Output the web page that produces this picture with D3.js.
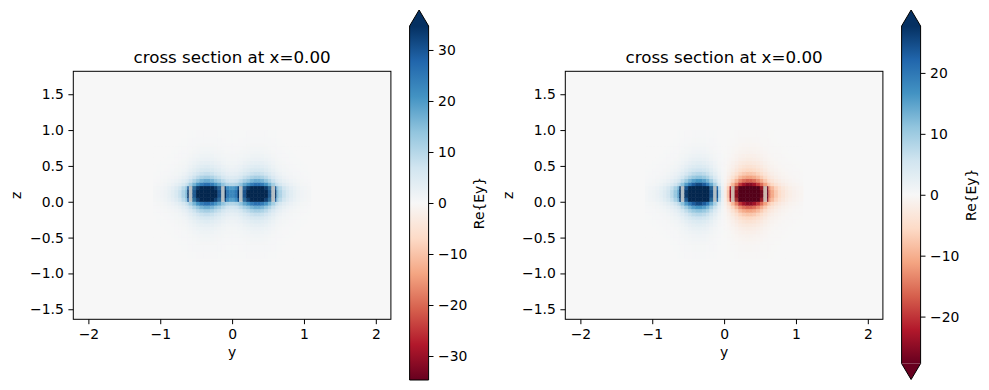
<!DOCTYPE html>
<html>
<head>
<meta charset="utf-8">
<script src="https://cdn.jsdelivr.net/npm/d3@7"></script>
<style>
body{margin:0;background:#fff;}
svg text{font-family:"DejaVu Sans",sans-serif;fill:#000;font-size:13.9px;}
</style>
</head>
<body>
<div id="chart"></div>
<script>
// cell edges of the field grid (um)
var yEdges = [-1.1,-1.05,-1.0,-0.95,-0.9,-0.85,-0.8,-0.75,-0.7,-0.65,-0.62,-0.6,
  -0.55,-0.5,-0.45,-0.4,-0.35,-0.3,-0.25,-0.2,-0.15,-0.1,
  -0.08,-0.04,0,0.04,0.08,0.1,
  0.15,0.2,0.25,0.3,0.35,0.4,0.45,0.5,0.55,0.6,
  0.62,0.65,0.7,0.75,0.8,0.85,0.9,0.95,1.0,1.05,1.1];
var zEdges = [-0.8,-0.7,-0.6,-0.55,-0.5,-0.45,-0.4,-0.35,-0.3,-0.25,-0.2,-0.15,-0.1,-0.05,0,
  0.055,0.11,0.165,0.22,
  0.27,0.32,0.37,0.42,0.47,0.52,0.57,0.62,0.67,0.72,0.77,0.82,0.9,1.0];

// vertical profile of both modes, relative to peak
var zProfile = [0.006,0.010,0.014,0.020,0.027,0.037,0.05,0.07,0.095,0.13,0.18,0.26,0.38,0.58,
  0.84,0.98,0.98,0.86,
  0.58,0.38,0.26,0.18,0.13,0.095,0.07,0.05,0.037,0.027,0.020,0.014,0.010,0.006];

// horizontal profiles: "smooth" above/below the cores, "band" inside the core height
var evenSmooth = [0.015,0.022,0.030,0.042,0.059,0.082,0.114,0.159,0.222,0.290,0.343,
  0.443,0.611,0.778,0.914,0.990,0.990,0.914,0.778,0.670,0.525,
  0.446,0.406,0.379,0.379,0.406,0.446,
  0.525,0.670,0.778,0.914,0.990,0.990,0.914,0.778,0.611,0.443,
  0.343,0.290,0.222,0.159,0.114,0.082,0.059,0.042,0.030,0.022,0.015];
var evenBand = [0.015,0.022,0.030,0.042,0.060,0.085,0.12,0.17,0.24,0.33,0.75,
  0.10,0.58,0.80,0.93,1.0,1.0,0.93,0.80,0.62,0.12,
  0.80,0.55,0.50,0.50,0.55,0.80,
  0.12,0.62,0.80,0.93,1.0,1.0,0.93,0.80,0.58,0.10,
  0.75,0.33,0.24,0.17,0.12,0.085,0.060,0.042,0.030,0.022,0.015];
var oddSmooth = [0.015,0.022,0.030,0.042,0.059,0.082,0.114,0.159,0.222,0.290,0.343,
  0.443,0.611,0.778,0.914,0.990,0.990,0.914,0.778,0.550,0.361,
  0.240,0.154,0.051,-0.051,-0.154,-0.240,
  -0.361,-0.550,-0.778,-0.914,-0.990,-0.990,-0.914,-0.778,-0.611,-0.443,
  -0.343,-0.290,-0.222,-0.159,-0.114,-0.082,-0.059,-0.042,-0.030,-0.022,-0.015];
var oddBand = [0.015,0.022,0.030,0.042,0.060,0.085,0.12,0.17,0.24,0.33,0.70,
  0.10,0.58,0.80,0.93,1.0,1.0,0.93,0.78,0.52,0.10,
  0.55,0.18,0.05,-0.05,-0.18,-0.55,
  -0.10,-0.52,-0.78,-0.93,-1.0,-1.0,-0.93,-0.80,-0.58,-0.10,
  -0.70,-0.33,-0.24,-0.17,-0.12,-0.085,-0.060,-0.042,-0.030,-0.022,-0.015];

var peaks = [46, 44];
var colorMax = [34.7, 27.7];
var coreBand = [0, 0.22];
var coreSpans = [[-0.6,-0.1],[0.1,0.6]];

var yDomain = [-2.21, 2.21];
var zDomain = [-1.64, 1.82];
var yTicks = [-2,-1,0,1,2];
var zTicks = [-1.5,-1,-0.5,0,0.5,1,1.5];
var barTicksLeft = [-30,-20,-10,0,10,20,30];
var barTicksRight = [-20,-10,0,10,20];
var titleText = 'cross section at x=0.00';
var barLabel = 'Re{Ey}';

var plotTop = 71.3, plotW = 317.6, plotH = 248;
var rdbu = d3.piecewise(d3.interpolateRgb, d3.schemeRdBu[11]);

var svg = d3.select('#chart')
  .append('svg')
  .attr('width', 989)
  .attr('height', 390);

function drawPanel(id, left, smooth, band, peak, vmax, barTicks, extendLow){
  var x = d3.scaleLinear().domain(yDomain).range([left, left+plotW]);
  var z = d3.scaleLinear().domain(zDomain).range([plotTop+plotH, plotTop]);
  var color = d3.scaleDiverging(rdbu).domain([-vmax, 0, vmax]).clamp(true);

  var cells = [];
  zProfile.forEach(function(zp, j){
    var inBand = zEdges[j] >= coreBand[0]-1e-9 && zEdges[j+1] <= coreBand[1]+1e-9;
    var row = inBand ? band : smooth;
    row.forEach(function(yp, i){
      cells.push({y0: yEdges[i], y1: yEdges[i+1], z0: zEdges[j], z1: zEdges[j+1], v: peak*yp*zp});
    });
  });

  var g = svg.append('g').attr('id', id);

  g.append('rect')
    .attr('x', left).attr('y', plotTop)
    .attr('width', plotW).attr('height', plotH)
    .attr('fill', color(0));

  g.selectAll('rect.cell')
    .data(cells)
    .enter()
      .append('rect')
      .classed('cell', true)
      .attr('x', function(d){return x(d.y0);})
      .attr('y', function(d){return z(d.z1);})
      .attr('width', function(d){return x(d.y1)-x(d.y0);})
      .attr('height', function(d){return z(d.z0)-z(d.z1);})
      .attr('fill', function(d){return color(d.v);})
      .attr('stroke', function(d){return color(d.v);})
      .attr('stroke-width', 0.4);

  // waveguide cores
  g.selectAll('rect.core')
    .data(coreSpans)
    .enter()
      .append('rect')
      .classed('core', true)
      .attr('x', function(d){return x(d[0]);})
      .attr('y', z(coreBand[1]))
      .attr('width', function(d){return x(d[1])-x(d[0]);})
      .attr('height', z(coreBand[0])-z(coreBand[1]))
      .attr('fill', '#000')
      .attr('opacity', 0.18);

  g.append('rect')
    .attr('x', left).attr('y', plotTop)
    .attr('width', plotW).attr('height', plotH)
    .attr('fill', 'none').attr('stroke', '#000').attr('stroke-width', 1);

  var xa = g.append('g')
    .attr('transform', 'translate(0,'+(plotTop+plotH)+')')
    .call(d3.axisBottom(x).tickValues(yTicks).tickFormat(d3.format('d')).tickSize(4.9).tickPadding(4.6));
  xa.select('.domain').remove();

  var za = g.append('g')
    .attr('transform', 'translate('+left+',0)')
    .call(d3.axisLeft(z).tickValues(zTicks).tickFormat(d3.format('.1f')).tickSize(4.9).tickPadding(4.6));
  za.select('.domain').remove();

  g.append('text')
    .attr('x', left+plotW/2).attr('y', 63)
    .attr('text-anchor', 'middle')
    .style('font-size', '16.7px')
    .text(titleText);

  g.append('text')
    .attr('x', left+plotW/2).attr('y', 357)
    .attr('text-anchor', 'middle')
    .text('y');

  g.append('text')
    .attr('transform', 'translate('+(left-52)+','+(plotTop+plotH/2)+') rotate(-90)')
    .attr('text-anchor', 'middle')
    .text('z');

  // colorbar
  var cbLeft = left+336.3, cbW = 19, ext = 16;
  var cbTop = 26, cbBottom = extendLow ? 363.5 : 380;
  var cb = d3.scaleLinear().domain([-vmax, vmax]).range([cbBottom, cbTop]);

  var grad = svg.append('defs').append('linearGradient')
    .attr('id', id+'-grad')
    .attr('x1', 0).attr('y1', 1).attr('x2', 0).attr('y2', 0);
  grad.selectAll('stop')
    .data(d3.schemeRdBu[11])
    .enter()
      .append('stop')
      .attr('offset', function(d,i){return i/10;})
      .attr('stop-color', function(d){return d;});

  g.append('rect')
    .attr('x', cbLeft).attr('y', cbTop)
    .attr('width', cbW).attr('height', cbBottom-cbTop)
    .attr('fill', 'url(#'+id+'-grad)');

  var outline = [[cbLeft, cbBottom], [cbLeft, cbTop], [cbLeft+cbW/2, cbTop-ext], [cbLeft+cbW, cbTop], [cbLeft+cbW, cbBottom]];
  g.append('path')
    .attr('d', d3.line()([[cbLeft, cbTop], [cbLeft+cbW/2, cbTop-ext], [cbLeft+cbW, cbTop]]))
    .attr('fill', color(vmax));
  if(extendLow){
    g.append('path')
      .attr('d', d3.line()([[cbLeft, cbBottom], [cbLeft+cbW/2, cbBottom+ext], [cbLeft+cbW, cbBottom]]))
      .attr('fill', color(-vmax));
    outline.push([cbLeft+cbW/2, cbBottom+ext]);
  }
  g.append('path')
    .attr('d', d3.line()(outline)+'Z')
    .attr('fill', 'none')
    .attr('stroke', '#000')
    .attr('stroke-width', 1);

  var ca = g.append('g')
    .attr('transform', 'translate('+(cbLeft+cbW)+',0)')
    .call(d3.axisRight(cb).tickValues(barTicks).tickFormat(d3.format('d')).tickSize(4.9).tickPadding(4.6));
  ca.select('.domain').remove();

  g.append('text')
    .attr('transform', 'translate('+(left+410.5)+','+((cbTop+cbBottom)/2)+') rotate(-90)')
    .attr('text-anchor', 'middle')
    .text(barLabel);
}

drawPanel('even', 73.3, evenSmooth, evenBand, peaks[0], colorMax[0], barTicksLeft, false);
drawPanel('odd', 565.3, oddSmooth, oddBand, peaks[1], colorMax[1], barTicksRight, true);
</script>
</body>
</html>
